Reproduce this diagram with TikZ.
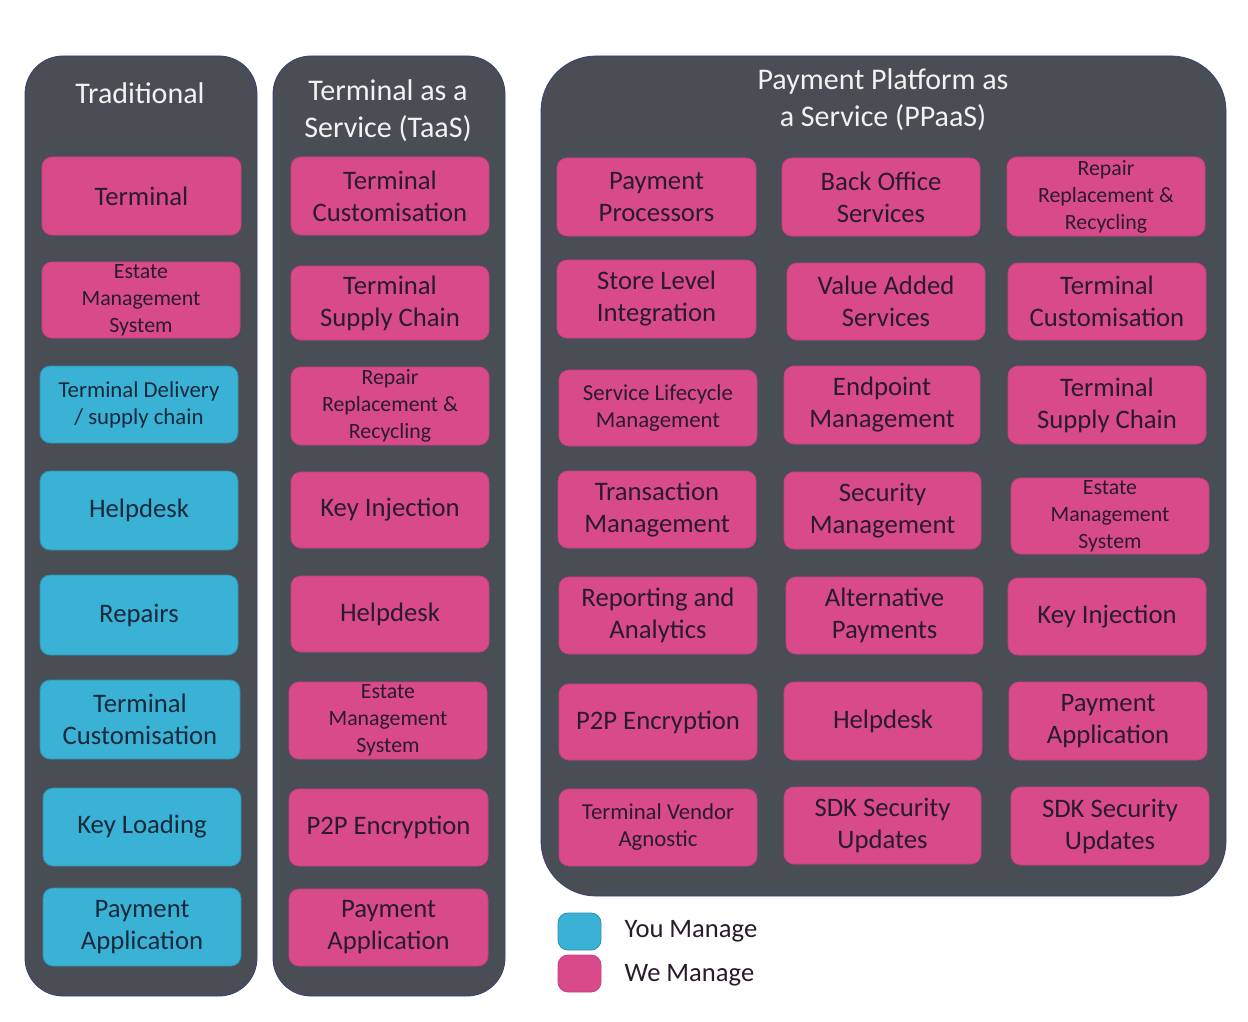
\documentclass[tikz,border=0pt]{standalone}
\usepackage{fontspec}
\setmainfont{Carlito}
\definecolor{panelc}{HTML}{494E55}
\definecolor{pinkc}{HTML}{D94A8A}
\definecolor{pinkb}{HTML}{C8407E}
\definecolor{bluec}{HTML}{3AB2D6}
\definecolor{blueb}{HTML}{2E8FB0}
\definecolor{inkc}{HTML}{2A1B2C}
\definecolor{inkb}{HTML}{17293A}
\definecolor{titlec}{HTML}{F2F2F2}
\tikzset{
  panel/.style={fill=panelc, draw=panelc!80!blue, line width=0.8pt},
  cellbase/.style={rectangle, rounded corners=10pt, inner sep=0pt, align=center, line width=0.8pt},
  we/.style={cellbase, fill=pinkc, draw=pinkb, text=inkc},
  you/.style={cellbase, fill=bluec, draw=blueb, text=inkb},
  big/.style={font=\fontsize{26.7}{32}\selectfont},
  small/.style={font=\fontsize{21.8}{27}\selectfont},
  mid/.style={font=\fontsize{22.8}{27}\selectfont},
  title/.style={text=titlec, align=center, font=\fontsize{30}{37}\selectfont},
  legend/.style={anchor=west, text=inkc, font=\fontsize{26.6}{30}\selectfont}
}
\newcommand\cell[7]{\node[#2, minimum width={#5-#3}, minimum height={#6-#4}] (#1) at ({(#3+#5)/2},{(#4+#6)/2}) {#7};}
\begin{document}
\begin{tikzpicture}[x=1pt,y=-1pt]
\useasboundingbox (0,0) rectangle (1248,1022);
\fill[white] (0,0) rectangle (1248,1022);
% panels
\draw[panel, rounded corners=38pt] (25,56) rectangle (257,996);
\draw[panel, rounded corners=38pt] (273,56) rectangle (505,996);
\draw[panel, rounded corners=55pt] (541,56) rectangle (1226,896);
% titles
\node[title] (ttrad) at (140,93) {Traditional};
\node[title] (ttaas) at (388,111) {Terminal as a\\Service (TaaS)};
\node[title] (tppaas) at (883,100) {Payment Platform as\\a Service (PPaaS)};
% Traditional column
\cell{a1}{we,big}{42}{157}{241}{235}{Terminal}
\cell{a2}{we,small}{42}{262}{240}{338}{Estate\\Management\\System}
\cell{a3}{you,mid}{40}{366}{238}{443}{Terminal Delivery\\/ supply chain}
\cell{a4}{you,big}{40}{471}{238}{550}{Helpdesk}
\cell{a5}{you,big}{40}{575}{238}{655}{Repairs}
\cell{a6}{you,big}{40}{680}{240}{759}{Terminal\\Customisation}
\cell{a7}{you,big}{43}{788}{241}{866}{Key Loading}
\cell{a8}{you,big}{43}{888}{241}{966}{Payment\\Application}
% TaaS column
\cell{b1}{we,big}{291}{157}{489}{235}{Terminal\\Customisation}
\cell{b2}{we,big}{291}{266}{489}{340}{Terminal\\Supply Chain}
\cell{b3}{we,small}{291}{367}{489}{445}{Repair\\Replacement \&\\Recycling}
\cell{b4}{we,big}{291}{472}{489}{548}{Key Injection}
\cell{b5}{we,big}{291}{576}{489}{652}{Helpdesk}
\cell{b6}{we,small}{289}{682}{487}{759}{Estate\\Management\\System}
\cell{b7}{we,big}{289}{789}{488}{866}{P2P Encryption}
\cell{b8}{we,big}{289}{889}{488}{966}{Payment\\Application}
% PPaaS col 1
\cell{c11}{we,big}{557}{158}{756}{236}{Payment\\Processors}
\cell{c21}{we,big}{557}{260}{756}{338}{Store Level\\Integration}
\cell{c31}{we,mid}{559}{370}{757}{446}{Service Lifecycle\\Management}
\cell{c41}{we,big}{558}{471}{756}{548}{Transaction\\Management}
\cell{c51}{we,big}{559}{577}{757}{654}{Reporting and\\Analytics}
\cell{c61}{we,big}{559}{684}{757}{760}{P2P Encryption}
\cell{c71}{we,mid}{559}{789}{757}{866}{Terminal Vendor\\Agnostic}
% PPaaS col 2
\cell{c12}{we,big}{782}{158}{980}{236}{Back Office\\Services}
\cell{c22}{we,big}{787}{263}{985}{340}{Value Added\\Services}
\cell{c32}{we,big}{784}{366}{980}{444}{Endpoint\\Management}
\cell{c42}{we,big}{784}{472}{981}{549}{Security\\Management}
\cell{c52}{we,big}{786}{577}{983}{654}{Alternative\\Payments}
\cell{c62}{we,big}{784}{682}{982}{760}{Helpdesk}
\cell{c72}{we,big}{784}{787}{981}{864}{SDK Security\\Updates}
% PPaaS col 3
\cell{c13}{we,small}{1007}{157}{1205}{236}{Repair\\Replacement \&\\Recycling}
\cell{c23}{we,big}{1008}{263}{1206}{340}{Terminal\\Customisation}
\cell{c33}{we,big}{1008}{366}{1206}{444}{Terminal\\Supply Chain}
\cell{c43}{we,small}{1011}{478}{1209}{554}{Estate\\Management\\System}
\cell{c53}{we,big}{1008}{578}{1206}{655}{Key Injection}
\cell{c63}{we,big}{1009}{682}{1207}{760}{Payment\\Application}
\cell{c73}{we,big}{1011}{787}{1209}{865}{SDK Security\\Updates}
% legend
\cell{ly}{you}{558}{913}{601}{950}{}
\cell{lw}{we}{558}{955}{601}{992}{}
\node[legend] (lyt) at (621,931) {You Manage};
\node[legend] (lwt) at (621,975) {We Manage};
\end{tikzpicture}
\end{document}
